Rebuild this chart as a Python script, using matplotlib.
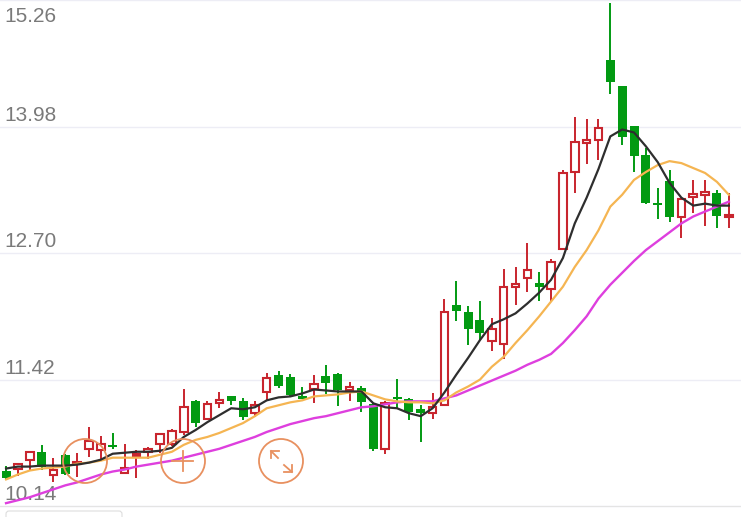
import numpy as np
import matplotlib.pyplot as plt
from matplotlib.patches import Circle, FancyBboxPatch

plt.rcParams["font.family"] = ["Liberation Sans", "DejaVu Sans"]

high = [10.55, 10.58, 10.70, 10.76, 10.63, 10.67, 10.68, 10.94, 10.85, 10.88,
        10.77, 10.71, 10.74, 10.87, 10.92, 11.32, 11.21, 11.20, 11.29, 11.25,
        11.23, 11.20, 11.49, 11.51, 11.48, 11.35, 11.47, 11.57, 11.49, 11.40,
        11.36, 11.18, 11.20, 11.43, 11.23, 11.16, 11.28, 12.24, 12.42, 12.16,
        12.22, 12.04, 12.54, 12.56, 12.80, 12.51, 12.64, 13.54, 14.08, 14.06,
        14.06, 15.23, 14.39, 13.99, 13.76, 13.36, 13.54, 13.26, 13.44, 13.44,
        13.34, 13.31]
body_top = [10.50, 10.57, 10.69, 10.69, 10.51, 10.66, 10.59, 10.80, 10.77, 10.76,
            10.53, 10.67, 10.72, 10.87, 10.90, 11.14, 11.20, 11.17, 11.21, 11.25,
            11.20, 11.16, 11.44, 11.47, 11.45, 11.25, 11.38, 11.46, 11.48, 11.35,
            11.34, 11.17, 11.18, 11.24, 11.22, 11.12, 11.14, 12.10, 12.17, 12.10,
            12.02, 11.93, 12.36, 12.39, 12.53, 12.40, 12.61, 13.51, 13.82, 13.84,
            13.97, 14.65, 14.39, 13.99, 13.69, 13.21, 13.43, 13.25, 13.30, 13.32,
            13.31, 13.08]
body_bottom = [10.42, 10.52, 10.61, 10.54, 10.45, 10.47, 10.57, 10.72, 10.71, 10.74,
               10.48, 10.65, 10.69, 10.77, 10.77, 10.89, 10.98, 11.02, 11.18, 11.20,
               11.04, 11.08, 11.29, 11.36, 11.26, 11.22, 11.32, 11.39, 11.31, 11.31,
               11.19, 10.72, 10.72, 11.22, 11.09, 11.08, 11.08, 11.16, 12.11, 11.93,
               11.89, 11.81, 11.78, 12.36, 12.45, 12.36, 12.34, 12.74, 13.52, 13.81,
               13.84, 14.43, 13.87, 13.68, 13.21, 13.19, 13.06, 13.06, 13.27, 13.29,
               13.07, 13.06]
low = [10.41, 10.44, 10.50, 10.51, 10.38, 10.45, 10.43, 10.64, 10.62, 10.72,
       10.48, 10.42, 10.62, 10.68, 10.75, 10.86, 10.94, 11.01, 11.13, 11.16,
       11.01, 11.04, 11.20, 11.33, 11.25, 11.22, 11.18, 11.27, 11.15, 11.20,
       11.09, 10.70, 10.67, 11.12, 11.01, 10.79, 11.02, 11.16, 12.01, 11.77,
       11.82, 11.71, 11.63, 12.17, 12.31, 12.22, 12.22, 12.74, 13.31, 13.60,
       13.64, 14.31, 13.79, 13.52, 13.20, 13.04, 13.01, 12.85, 13.11, 12.97,
       12.95, 12.95]
# 1 = rising (red, hollow), 0 = falling (green, filled)
rising = [0, 1, 1, 0, 1, 0, 1, 1, 1, 0,
          1, 1, 1, 1, 1, 1, 0, 1, 1, 0,
          0, 1, 1, 0, 0, 0, 1, 0, 0, 1,
          0, 0, 1, 0, 0, 0, 1, 1, 0, 0,
          0, 1, 1, 1, 1, 0, 1, 1, 1, 1,
          1, 0, 0, 0, 0, 0, 0, 1, 1, 1,
          0, 1]

ma5 = [10.52, 10.54, 10.54, 10.55, 10.55, 10.55, 10.56, 10.58, 10.61, 10.67,
       10.68, 10.69, 10.69, 10.70, 10.73, 10.84, 10.91, 10.99, 11.06, 11.13,
       11.12, 11.14, 11.21, 11.24, 11.25, 11.28, 11.32, 11.31, 11.30, 11.30,
       11.30, 11.18, 11.14, 11.13, 11.08, 11.05, 11.13, 11.29, 11.47, 11.64,
       11.82, 11.98, 12.03, 12.09, 12.19, 12.30, 12.43, 12.65, 13.00, 13.26,
       13.55, 13.88, 13.95, 13.92, 13.78, 13.62, 13.41, 13.26, 13.18, 13.20,
       13.18, 13.18]
ma10 = [10.41, 10.46, 10.50, 10.52, 10.53, 10.54, 10.57, 10.58, 10.60, 10.63,
        10.63, 10.63, 10.63, 10.66, 10.69, 10.76, 10.81, 10.84, 10.88, 10.93,
        10.98, 11.05, 11.13, 11.16, 11.19, 11.21, 11.25, 11.26, 11.27, 11.29,
        11.30, 11.26, 11.22, 11.20, 11.19, 11.19, 11.18, 11.21, 11.29, 11.35,
        11.42, 11.55, 11.65, 11.79, 11.92, 12.06, 12.21, 12.36, 12.56, 12.73,
        12.93, 13.17, 13.29, 13.44, 13.52, 13.59, 13.63, 13.61, 13.56, 13.51,
        13.42, 13.29]
ma20 = [10.17, 10.20, 10.23, 10.27, 10.31, 10.35, 10.38, 10.42, 10.46, 10.49,
        10.51, 10.54, 10.56, 10.58, 10.60, 10.63, 10.66, 10.69, 10.72, 10.76,
        10.80, 10.84, 10.89, 10.93, 10.97, 11.00, 11.03, 11.05, 11.08, 11.11,
        11.14, 11.15, 11.17, 11.19, 11.20, 11.20, 11.20, 11.23, 11.26, 11.31,
        11.36, 11.41, 11.46, 11.51, 11.57, 11.62, 11.68, 11.79, 11.92, 12.06,
        12.24, 12.38, 12.50, 12.62, 12.73, 12.82, 12.91, 13.00, 13.07, 13.12,
        13.17, 13.22]

price_ticks = [15.26, 13.98, 12.70, 11.42, 10.14]
tick_labels = ["15.26", "13.98", "12.70", "11.42", "10.14"]

RED = "#C8252E"
GREEN = "#029A12"

fig = plt.figure(figsize=(7.41, 5.17), dpi=100)
ax = fig.add_axes([0, 0, 1, 1])
ax.set_xlim(-0.51, 62.03)
ax.set_ylim(10.03, 15.26)
ax.axis("off")

for p, lab in zip(price_ticks, tick_labels):
    ax.axhline(p, color="#EDEDF5", lw=1.0, zorder=1)
    if lab == "15.26":
        ax.annotate(lab, (0, p), xycoords=("axes fraction", "data"), xytext=(3.0, -5),
                    textcoords="offset points", ha="left", va="top", fontsize=15, color="#7A7A7A")
    else:
        ax.annotate(lab, (0, p), xycoords=("axes fraction", "data"), xytext=(3.0, 1.2),
                    textcoords="offset points", ha="left", va="bottom", fontsize=15, color="#7A7A7A")

x = np.arange(len(high))
for i in x:
    col = RED if rising[i] else GREEN
    ax.vlines(i, low[i], high[i], color=col, lw=1.4, zorder=2)
    h = body_top[i] - body_bottom[i]
    if rising[i]:
        ax.bar(i, h, 0.64, bottom=body_bottom[i], facecolor="white", edgecolor=col, linewidth=1.5, zorder=3)
    else:
        ax.bar(i, h, 0.76, bottom=body_bottom[i], color=col, linewidth=0, zorder=3)

ax.plot(x, ma20, color="#DE3FDE", lw=1.7, zorder=4)
ax.plot(x, ma10, color="#F5B552", lw=1.6, zorder=5)
ax.plot(x, ma5, color="#2E2E2E", lw=1.6, zorder=6)

# overlay for the zoom buttons, in screen pixels
ui = fig.add_axes([0, 0, 1, 1], facecolor="none")
ui.set_xlim(0, 741)
ui.set_ylim(517, 0)
ui.axis("off")
ORANGE = "#E8905F"
for cx in (85, 183, 281):
    ui.add_patch(Circle((cx, 461), 22, fill=False, ec=ORANGE, lw=1.3, zorder=7))
ui.plot([172, 193], [461, 461], color=ORANGE, lw=1.3, zorder=7)
ui.plot([183, 183], [451, 471], color=ORANGE, lw=1.3, zorder=7)
ui.plot([271, 278], [451, 458], color=ORANGE, lw=1.3, zorder=7)
ui.plot([284, 292], [465, 472], color=ORANGE, lw=1.3, zorder=7)
ui.plot([271, 271, 279], [458, 451, 451], color=ORANGE, lw=1.3, zorder=7)
ui.plot([284, 292, 292], [472, 472, 465], color=ORANGE, lw=1.3, zorder=7)
ui.axhline(506, xmin=0, xmax=1, color="#E4E4E4", lw=0.8, zorder=1)
ui.add_patch(FancyBboxPatch((6, 511), 116, 12, boxstyle="round,pad=0,rounding_size=3",
                            fc="white", ec="#DDDDDD", lw=0.8, zorder=7))

fig.savefig("out.png", dpi=100)
